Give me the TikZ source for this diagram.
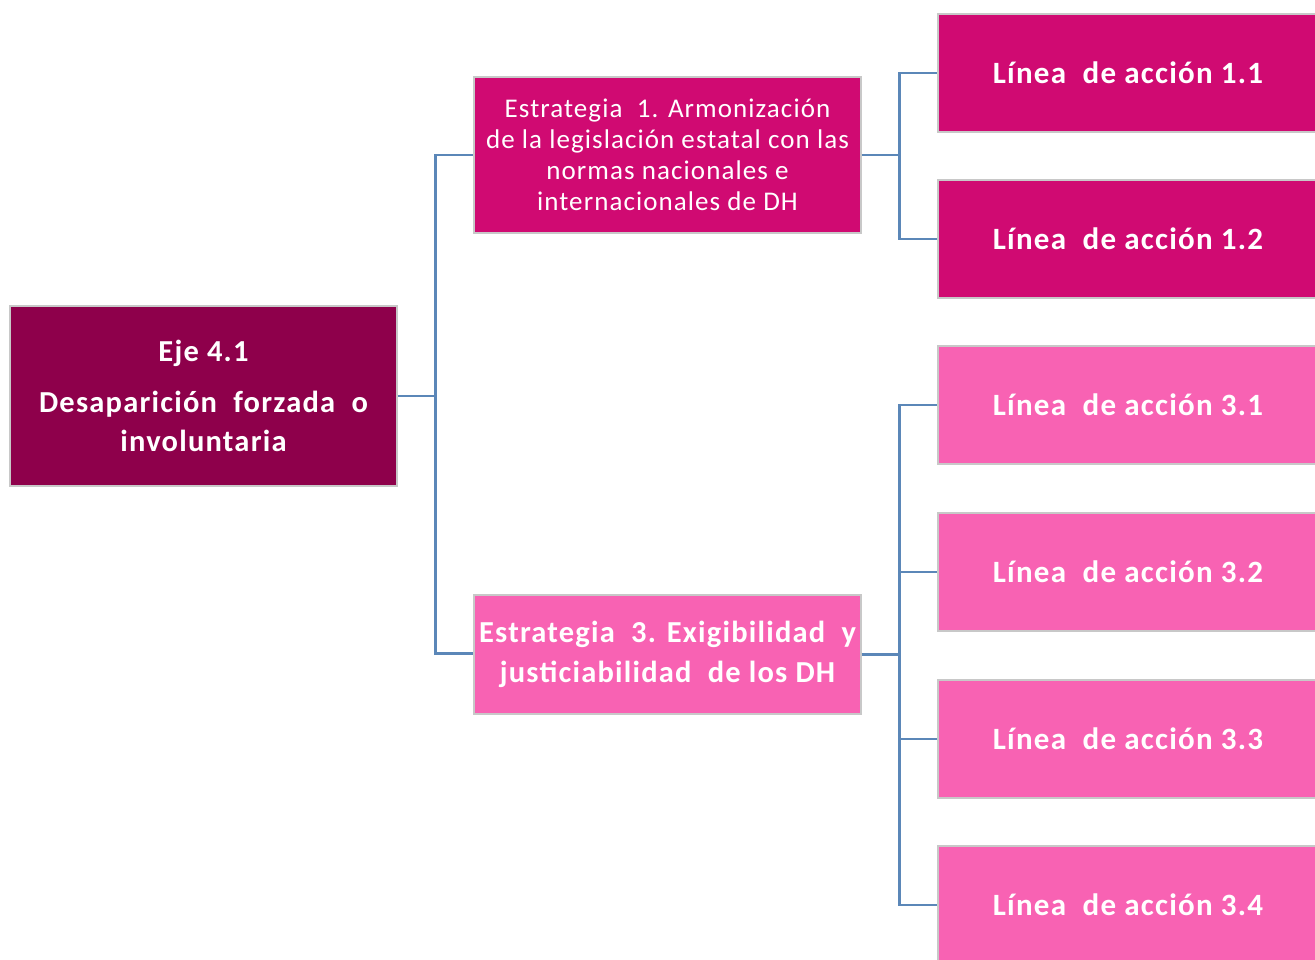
\documentclass[tikz,border=0pt]{standalone}
\usepackage{fontspec}
\setmainfont[LetterSpace=4]{Carlito}
\definecolor{rootc}{HTML}{8E004B}
\definecolor{estA}{HTML}{D00A72}
\definecolor{estB}{HTML}{F862B3}
\definecolor{connc}{HTML}{5B87B8}
\definecolor{bordc}{HTML}{C8C8C8}
\tikzset{
  box/.style={draw=bordc, line width=1.5pt, text=white, align=center, inner sep=0pt, anchor=center},
  rootbox/.style={box, fill=rootc, minimum width=387pt, minimum height=180pt},
  stratA/.style={box, fill=estA, minimum width=387pt, minimum height=156pt},
  stratB/.style={box, fill=estB, minimum width=387pt, minimum height=119pt},
  lineA/.style={box, fill=estA, minimum width=380pt, minimum height=118pt, font=\fontsize{31}{36}\selectfont\bfseries},
  lineB/.style={box, fill=estB, minimum width=380pt, minimum height=118pt, font=\fontsize{31}{36}\selectfont\bfseries},
  conn/.style={draw=connc, line width=2.8pt}
}
\begin{document}
\begin{tikzpicture}[x=1pt,y=-1pt]
\useasboundingbox (0,0) rectangle (1315,960);
\node[rootbox, font=\fontsize{30.5}{39}\selectfont\bfseries] (root) at (203.5,396) {Eje 4.1\\[12pt]Desaparición\ \ forzada\ \ o\\involuntaria};
\node[stratA, font=\fontsize{27}{31}\selectfont] (e1) at (667.5,155) {Estrategia\ \ 1. Armonización\\de la legislación estatal con las\\normas nacionales e\\internacionales de DH};
\node[stratB, font=\fontsize{30.5}{40}\selectfont\bfseries] (e3) at (667.5,654.5) {Estrategia\ \ 3. Exigibilidad\ \ y\\justiciabilidad\ \ de los DH};
\node[lineA] (l11) at (1128,73) {Línea\ \ de acción 1.1};
\node[lineA] (l12) at (1128,239) {Línea\ \ de acción 1.2};
\node[lineB] (l31) at (1128,405) {Línea\ \ de acción 3.1};
\node[lineB] (l32) at (1128,572) {Línea\ \ de acción 3.2};
\node[lineB] (l33) at (1128,739) {Línea\ \ de acción 3.3};
\node[lineB] (l34) at (1128,905) {Línea\ \ de acción 3.4};
\draw[conn] (root.east) -- ++(38,0) |- (e1.west);
\draw[conn] (root.east) -- ++(38,0) |- ([yshift=1pt]e3.west);
\draw[conn] (e1.east) -- ++(38,0) |- (l11.west);
\draw[conn] (e1.east) -- ++(38,0) |- (l12.west);
\draw[conn] (e3.east) -- ++(38,0) |- (l31.west);
\draw[conn] (e3.east) -- ++(38,0) |- (l32.west);
\draw[conn] (e3.east) -- ++(38,0) |- (l33.west);
\draw[conn] (e3.east) -- ++(38,0) |- (l34.west);
\end{tikzpicture}
\end{document}
